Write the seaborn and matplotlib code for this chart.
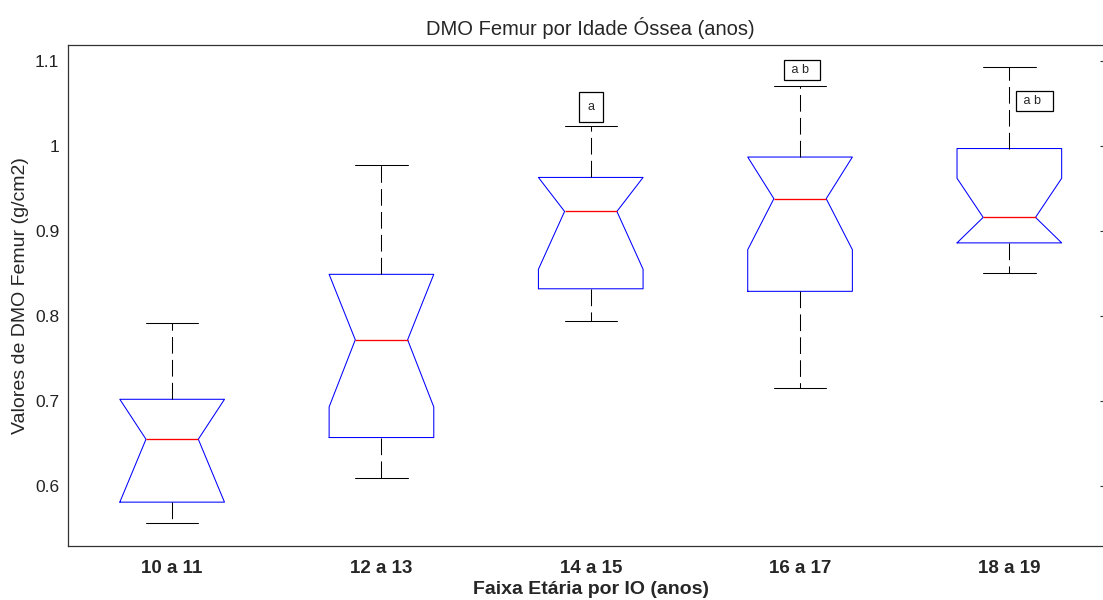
import matplotlib
matplotlib.use("Agg")
import matplotlib.pyplot as plt
import seaborn as sns

# Five-number summaries and notch limits for each bone-age group
groups = ["10 a 11", "12 a 13", "14 a 15", "16 a 17", "18 a 19"]
whisker_low = [0.557, 0.609, 0.794, 0.715, 0.850]
q1 = [0.581, 0.657, 0.832, 0.829, 0.886]
median = [0.655, 0.772, 0.923, 0.938, 0.916]
q3 = [0.702, 0.849, 0.963, 0.987, 0.997]
whisker_high = [0.792, 0.978, 1.023, 1.071, 1.093]
notch_low = [0.581, 0.693, 0.855, 0.878, 0.886]
notch_high = [0.702, 0.849, 0.963, 0.987, 0.962]

# Significance letters
sig_labels = ["a", "a b", "a b"]

y_ticks = [0.6, 0.7, 0.8, 0.9, 1.0, 1.1]
y_tick_labels = ["0.6", "0.7", "0.8", "0.9", "1", "1.1"]

sns.set_theme(style="white")
plt.rcParams["font.family"] = ["Liberation Sans", "DejaVu Sans"]

fig = plt.figure(figsize=(11.03, 6.0), dpi=100)
ax = fig.add_axes([67.5 / 1103, 54 / 600, (1114 - 67.5) / 1103, (546 - 45) / 600])

stats = [
    dict(label=g, whislo=lo, q1=a, med=m, q3=b, whishi=hi, cilo=cl, cihi=ch, fliers=[])
    for g, lo, a, m, b, hi, cl, ch in zip(groups, whisker_low, q1, median, q3,
                                          whisker_high, notch_low, notch_high)
]
positions = list(range(1, len(groups) + 1))

lw = 0.75
parts = ax.bxp(
    stats,
    positions=positions,
    widths=0.5,
    capwidths=0.25,
    shownotches=True,
    showfliers=False,
    manage_ticks=False,
    boxprops=dict(color="#0000ff", linewidth=lw),
    medianprops=dict(color="#ff0000", linewidth=0.95, solid_capstyle="butt"),
    whiskerprops=dict(color="black", linewidth=lw, linestyle=(0, (16, 6))),
    capprops=dict(color="black", linewidth=lw),
)
for med_line in parts["medians"]:
    med_line.set_zorder(4)

# Letters marking significant differences
ax.text(positions[2], 1.046, sig_labels[0], ha="center", va="center", fontsize=9,
        bbox=dict(boxstyle="square,pad=0.7", fc="white", ec="black", lw=0.9))
pair_box = dict(boxstyle="square,pad=0.33", fc="white", ec="black", lw=0.9)
ax.text(positions[3] + 0.01, 1.089, " " + sig_labels[1] + "  ", ha="center", va="center",
        fontsize=9, bbox=pair_box)
ax.text(positions[4] + 0.12, 1.053, " " + sig_labels[2] + "  ", ha="center", va="center",
        fontsize=9, bbox=pair_box)

ax.set_xlim(0.5, 5.5)
ax.set_ylim(0.5294, 1.1188)
ax.set_xticks(positions)
ax.set_xticklabels(groups, fontsize=13.5, fontweight="bold")
ax.set_yticks(y_ticks)
ax.set_yticklabels(y_tick_labels, fontsize=12.5, color="#222222")

ax.tick_params(axis="both", direction="in", length=10, width=0.8, color="#333333",
               top=False, right=True)
ax.tick_params(axis="x", pad=10)
ax.tick_params(axis="y", pad=6)
for s in ax.spines.values():
    s.set_color("#333333")
    s.set_linewidth(0.9)

ax.set_title("DMO Femur por Idade Óssea (anos)", fontsize=14.5, pad=7)
ax.set_xlabel("Faixa Etária por IO (anos)", fontsize=14, fontweight="bold", labelpad=3)
ax.set_ylabel("Valores de DMO Femur (g/cm2)", fontsize=14, labelpad=4)

fig.savefig("out.png", dpi=100)
